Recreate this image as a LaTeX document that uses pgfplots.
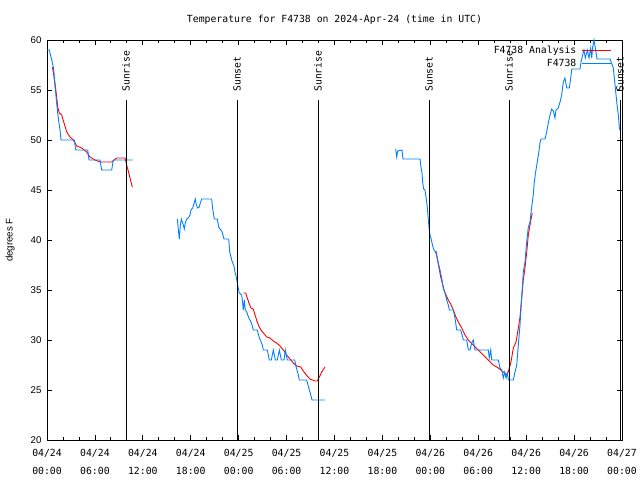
\documentclass[border=0pt]{standalone}
\usepackage{pgfplots}
\pgfplotsset{compat=1.18}
\usepackage{fontspec}
\setmainfont{DejaVu Sans Mono}
\setmonofont{DejaVu Sans Mono}
\setsansfont{Liberation Sans}
\definecolor{obsblue}{HTML}{0080FF}
\newcommand{\monofont}{\fontsize{9.8}{16}\selectfont\ttfamily}

\begin{document}
\begin{tikzpicture}
\useasboundingbox (0,0) rectangle (640pt,480pt);
\begin{axis}[
    at={(47pt,40pt)}, anchor=south west,
    scale only axis, width=575pt, height=400pt,
    xmin=0, xmax=72, ymin=20, ymax=60,
    axis line style={line width=0.8pt},
    tick style={black, line width=0.8pt},
    tick align=inside,
    major tick length=5pt, minor tick length=3pt,
    xtick={0,6,...,72},
    minor x tick num=2,
    xticklabels={{04/24\\[1.5pt]00:00},{04/24\\[1.5pt]06:00},{04/24\\[1.5pt]12:00},{04/24\\[1.5pt]18:00},
                 {04/25\\[1.5pt]00:00},{04/25\\[1.5pt]06:00},{04/25\\[1.5pt]12:00},{04/25\\[1.5pt]18:00},
                 {04/26\\[1.5pt]00:00},{04/26\\[1.5pt]06:00},{04/26\\[1.5pt]12:00},{04/26\\[1.5pt]18:00},
                 {04/27\\[1.5pt]00:00}},
    xticklabel style={font=\monofont, align=center, yshift=-6pt},
    ytick={20,25,...,60},
    /pgf/number format/assume math mode=true,
    yticklabel style={font=\sffamily\fontsize{9.7}{11}\selectfont, xshift=-2pt},
    ylabel={degrees F},
    ylabel style={font=\sffamily\fontsize{9.7}{11}\selectfont,
                  at={(axis description cs:-0.064,0.5)}, anchor=center},
    title={Temperature for F4738 on 2024-Apr-24 (time in UTC)},
    title style={font=\monofont, at={(0.5,1)}, anchor=base, yshift=11pt},
    legend plot pos=right,
    legend cell align=right,
    legend image code/.code={\draw[#1] (0pt,0pt) -- (29pt,0pt);},
    legend style={draw=none, fill=none, font=\monofont, at={(1,1)}, anchor=north east,
                  xshift=-7pt, yshift=-3pt, row sep=3.5pt, column sep=5pt,
                  nodes={inner sep=0.5pt}},
    clip=false,
]
% analysis (red)
\addplot[red, line width=0.9pt] coordinates {
(0.66,57.3) (0.79,56.8) (1.0,55.7) (1.21,54.3) (1.34,53.3) (1.54,52.7) (1.84,52.5)
(2.13,51.7) (2.47,50.8) (2.88,50.3) (3.29,50.0) (3.72,49.4) (4.35,49.2) (4.97,48.8)
(5.38,48.3) (6.01,48.0) (6.64,47.8) (7.48,47.8) (8.1,47.8) (8.73,48.2) (9.77,48.2)
(9.98,47.5) (10.3,46.5) (10.68,45.3)
};
\addlegendentry{F4738 Analysis}
\addplot[red, line width=0.9pt, forget plot] coordinates {
(24.58,34.7) (24.88,34.7) (25.08,34.2) (25.29,33.7) (25.54,33.2) (25.83,33.1) (26.05,32.5)
(26.33,31.8) (26.58,31.3) (26.88,30.9) (27.21,30.6) (27.51,30.3) (27.92,30.2) (28.34,29.9)
(28.76,29.7) (29.18,29.4) (29.59,29.0) (30.01,28.5) (30.43,28.1) (30.84,27.7) (31.27,27.4)
(31.77,27.3) (32.18,26.8) (32.59,26.4) (32.93,26.1) (33.56,25.9) (33.85,25.9) (34.1,26.3)
(34.4,26.8) (34.81,27.3)
};
\addplot[red, line width=0.9pt, forget plot] coordinates {
(48.71,38.9) (48.87,38.2) (49.09,37.2) (49.3,36.3) (49.5,35.7) (49.71,35.0) (49.96,34.5)
(50.25,34.0) (50.55,33.6) (50.88,33.0) (51.21,32.3) (51.5,31.8) (51.93,31.2) (52.34,30.5)
(52.76,30.0) (53.38,29.5) (54.01,29.0) (54.63,28.5) (55.26,28.0) (55.89,27.5) (56.51,27.2)
(57.14,26.8) (57.64,26.5) (57.89,27.2) (58.1,27.8) (58.39,29.2) (58.73,29.8) (59.02,31.2)
(59.23,32.3) (59.44,34.2) (59.64,36.0) (59.85,37.2) (60.07,38.8) (60.27,40.5) (60.48,41.5)
(60.76,42.7)
};
% observations (blue)
\addplot[obsblue, line width=0.9pt] coordinates {
(0,59) (0.3,59) (0.38,58.7) (0.59,58) (0.79,57.3) (0.88,56.7) (0.96,55.7) (1.09,54.7)
(1.21,53.7) (1.34,52.7) (1.5,51.7) (1.63,51) (1.75,50) (3.42,50) (3.6,49) (5.1,49)
(5.26,48) (6.64,48) (6.85,47) (8.1,47) (8.3,48) (10.73,48)
};
\addlegendentry{F4738}
\addplot[obsblue, line width=0.9pt, forget plot] coordinates {
(16.32,42.1) (16.45,41.0) (16.57,40.1) (16.7,41.5) (16.82,42.1) (17.07,41.5) (17.19,41.1)
(17.32,41.7) (17.49,42.1) (17.69,42.2) (17.91,42.5) (18.03,43.0) (18.24,43.2) (18.44,43.7)
(18.57,44.1) (18.7,43.5) (18.87,43.2) (19.07,43.3) (19.2,43.7) (19.37,44.1) (20.62,44.1)
(20.75,43.1) (20.95,42.1) (21.33,42.1) (21.5,41.3) (21.66,41.1) (21.88,40.9) (22.0,40.6)
(22.16,40.1) (22.75,40.1) (22.88,38.8) (23.04,38.3) (23.2,37.8) (23.38,37.5) (23.54,36.8)
(23.67,36.4) (23.79,35.9) (23.92,35.3) (24.08,34.7) (24.38,34.5) (24.5,33.7) (24.58,33.0)
(24.71,34.0) (24.83,33.0) (25.01,32.8) (25.13,32.5) (25.33,32.1) (25.54,31.8) (25.71,31.4)
(25.83,31.0) (26.33,31.0) (26.55,30.3) (26.76,29.9) (26.96,29.5) (27.09,29.0) (27.59,29.0)
(27.84,28.0) (28.09,28.0) (28.34,29.0) (28.59,28.0) (28.84,28.0) (29.09,29.0) (29.34,28.0)
(29.68,28.0) (29.84,29.0) (30.09,28.0) (31.02,28.0) (31.14,27.5) (31.3,27.0) (31.47,26.5)
(31.59,26.0) (32.52,26.0) (32.68,25.5) (32.93,24.8) (33.18,24.0) (34.81,24.0)
};
\addplot[obsblue, line width=0.9pt, forget plot] coordinates {
(43.66,49.1) (43.79,48.3) (43.91,48.9) (44.45,49.0) (44.58,48.1) (46.71,48.1) (46.83,47.3)
(46.96,46.7) (47.05,45.7) (47.17,45.1) (47.33,45.0) (47.46,44.3) (47.62,43.3) (47.75,42.0)
(47.87,41.0) (47.96,40.5) (48.08,40.2) (48.21,39.7) (48.37,39.2) (48.46,39.0) (48.71,38.7)
(49.0,37.7) (49.21,37.0) (49.42,36.2) (49.62,35.2) (49.84,34.7) (50.05,34.0) (50.25,33.5)
(50.38,33.0) (50.88,33.0) (51.09,32.2) (51.3,31.0) (51.8,31.0) (52.05,30.3) (52.13,30.0)
(52.55,30.0) (52.76,29.0) (52.97,29.0) (53.18,29.7) (53.38,30.0) (53.59,29.0) (55.26,29.0)
(55.38,28.2) (55.56,29.0) (55.69,28.0) (56.51,28.0) (56.72,27.2) (56.94,27.0) (57.14,26.2)
(57.31,26.8) (57.48,26.2) (57.64,26.7) (57.77,26.0) (58.39,26.0) (58.6,26.8) (58.82,27.5)
(59.02,29.5) (59.23,31.5) (59.35,33.2) (59.48,34.7) (59.64,36.8) (59.85,37.8) (60.07,39.8)
(60.27,41.3) (60.48,41.8) (60.69,43.3) (60.89,44.5) (61.02,45.8) (61.19,46.8) (61.39,47.8)
(61.57,48.7) (61.73,49.7) (61.86,50.1) (62.36,50.1) (62.57,50.8) (62.77,51.7) (62.99,52.5)
(63.2,53.1) (63.4,52.9) (63.61,52.2) (63.73,53.0) (64.02,53.2) (64.24,53.8) (64.45,54.5)
(64.65,55.8) (64.86,56.2) (65.08,55.2) (65.4,55.2) (65.58,56.2) (65.71,57.1) (66.74,57.1)
(66.87,57.8) (67.08,58.5) (67.24,59.0) (67.41,58.2) (67.66,59.0) (67.87,58.2) (68.08,59.2)
(68.21,58.2) (68.33,59.3) (68.49,60.0) (68.66,59.2) (68.87,58.1) (70.5,58.1) (70.91,57.2)
(71.13,55.5) (71.34,53.8) (71.54,52.5) (71.67,51.2) (71.75,51.0)
};
% sunrise / sunset markers
\addplot[black, line width=0.8pt, forget plot] coordinates {(9.89,54) (9.89,20)};
\addplot[black, line width=0.8pt, forget plot] coordinates {(23.79,54) (23.79,20)};
\addplot[black, line width=0.8pt, forget plot] coordinates {(33.93,54) (33.93,20)};
\addplot[black, line width=0.8pt, forget plot] coordinates {(47.83,54) (47.83,20)};
\addplot[black, line width=0.8pt, forget plot] coordinates {(57.85,54) (57.85,20)};
\addplot[black, line width=0.8pt, forget plot] coordinates {(71.75,54) (71.75,20)};
\node[font=\monofont, rotate=90, anchor=west, inner sep=0pt] at (axis cs:9.89,54.8) {Sunrise};
\node[font=\monofont, rotate=90, anchor=west, inner sep=0pt] at (axis cs:23.79,54.8) {Sunset};
\node[font=\monofont, rotate=90, anchor=west, inner sep=0pt] at (axis cs:33.93,54.8) {Sunrise};
\node[font=\monofont, rotate=90, anchor=west, inner sep=0pt] at (axis cs:47.83,54.8) {Sunset};
\node[font=\monofont, rotate=90, anchor=west, inner sep=0pt] at (axis cs:57.85,54.8) {Sunrise};
\node[font=\monofont, rotate=90, anchor=west, inner sep=0pt] at (axis cs:71.75,54.8) {Sunset};
\end{axis}
\end{tikzpicture}
\end{document}
